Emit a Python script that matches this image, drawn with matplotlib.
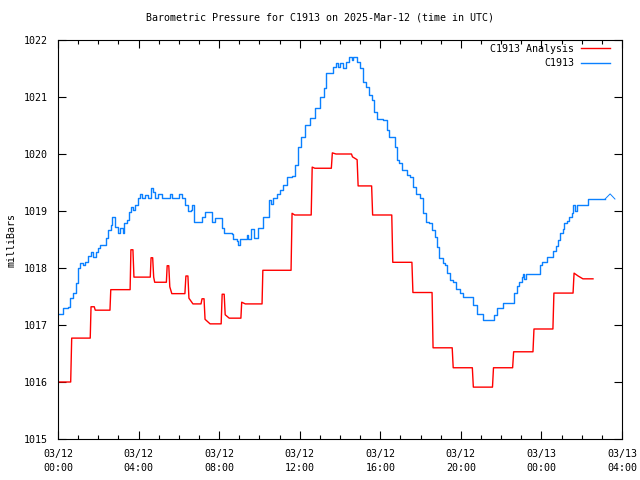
import matplotlib
matplotlib.use("Agg")
import matplotlib.pyplot as plt
from matplotlib.ticker import MultipleLocator

# hours since 2025-03-12 00:00 UTC
blue_hours = [0.0, 0.25, 0.50, 0.60, 0.74, 0.89, 0.99, 1.09, 1.24, 1.34, 1.49, 1.64, 1.74, 1.89, 1.99,
              2.09, 2.28, 2.38, 2.48, 2.63, 2.68, 2.83, 2.98, 3.08, 3.23, 3.28, 3.43, 3.52, 3.62, 3.72,
              3.82, 3.97, 4.07, 4.17, 4.32, 4.47, 4.62, 4.72, 4.82, 4.96, 5.16, 5.46, 5.56, 5.66, 5.91,
              6.01, 6.16, 6.30, 6.45, 6.60, 6.65, 6.75, 7.00, 7.15, 7.30, 7.40, 7.65, 7.79, 7.94, 8.14,
              8.24, 8.64, 8.69, 8.89, 8.94, 9.04, 9.23, 9.38, 9.43, 9.58, 9.73, 9.93, 10.13, 10.18, 10.38,
              10.48, 10.57, 10.67, 10.87, 11.02, 11.17, 11.37, 11.62, 11.77, 11.92, 12.06, 12.26, 12.51,
              12.76, 13.01, 13.21, 13.31, 13.50, 13.65, 13.80, 13.90, 14.00, 14.15, 14.30, 14.45, 14.60,
              14.65, 14.84, 14.99, 15.14, 15.29, 15.44, 15.59, 15.69, 15.84, 16.13, 16.33, 16.43, 16.63,
              16.73, 16.83, 16.93, 17.08, 17.33, 17.48, 17.62, 17.77, 17.97, 18.12, 18.27, 18.42, 18.57,
              18.72, 18.82, 18.92, 19.11, 19.21, 19.31, 19.46, 19.61, 19.76, 19.96, 20.11, 20.55, 20.60,
              20.80, 21.05, 21.10, 21.60, 21.65, 21.79, 22.04, 22.09, 22.59, 22.64, 22.79, 22.89, 23.04,
              23.09, 23.14, 23.23, 23.83, 23.93, 24.03, 24.18, 24.28, 24.48, 24.57, 24.72, 24.82, 24.92,
              25.07, 25.12, 25.27, 25.37, 25.52, 25.57, 25.67, 25.77, 26.21, 26.31, 27.16]
blue_mb = [1017.19, 1017.30, 1017.32, 1017.47, 1017.56, 1017.74, 1018.00, 1018.09, 1018.05, 1018.11,
           1018.21, 1018.28, 1018.19, 1018.28, 1018.35, 1018.40, 1018.40, 1018.53, 1018.67, 1018.75,
           1018.89, 1018.72, 1018.61, 1018.70, 1018.61, 1018.79, 1018.84, 1018.98, 1019.07, 1019.02,
           1019.11, 1019.23, 1019.30, 1019.23, 1019.28, 1019.23, 1019.40, 1019.33, 1019.23, 1019.30,
           1019.23, 1019.23, 1019.30, 1019.23, 1019.23, 1019.30, 1019.23, 1019.11, 1019.00, 1019.02,
           1019.11, 1018.81, 1018.81, 1018.89, 1018.98, 1018.98, 1018.81, 1018.88, 1018.88, 1018.70,
           1018.61, 1018.60, 1018.51, 1018.47, 1018.40, 1018.51, 1018.51, 1018.58, 1018.51, 1018.68,
           1018.53, 1018.70, 1018.70, 1018.89, 1018.89, 1019.19, 1019.12, 1019.23, 1019.30, 1019.37,
           1019.46, 1019.60, 1019.61, 1019.81, 1020.12, 1020.30, 1020.51, 1020.63, 1020.81, 1021.00,
           1021.16, 1021.42, 1021.42, 1021.53, 1021.60, 1021.53, 1021.60, 1021.51, 1021.61, 1021.70,
           1021.65, 1021.70, 1021.61, 1021.51, 1021.26, 1021.18, 1021.04, 1020.95, 1020.74, 1020.61,
           1020.60, 1020.42, 1020.30, 1020.30, 1020.12, 1019.89, 1019.84, 1019.72, 1019.63, 1019.60,
           1019.42, 1019.30, 1019.23, 1018.96, 1018.81, 1018.79, 1018.67, 1018.54, 1018.37, 1018.18,
           1018.09, 1018.05, 1017.91, 1017.79, 1017.75, 1017.63, 1017.56, 1017.49, 1017.49, 1017.35,
           1017.19, 1017.19, 1017.09, 1017.09, 1017.18, 1017.30, 1017.30, 1017.39, 1017.39, 1017.56,
           1017.68, 1017.75, 1017.84, 1017.89, 1017.80, 1017.89, 1017.89, 1018.05, 1018.11, 1018.11,
           1018.19, 1018.19, 1018.30, 1018.39, 1018.49, 1018.61, 1018.68, 1018.79, 1018.82, 1018.89,
           1018.96, 1019.11, 1019.00, 1019.11, 1019.11, 1019.21, 1019.21]
# last few samples are joined by straight segments
blue_tail_hours = [27.16, 27.41, 27.65]
blue_tail_mb = [1019.21, 1019.30, 1019.21]

red_hours = [0.0, 0.63, 0.68, 1.60, 1.64, 1.80, 1.85, 2.58, 2.62, 3.58, 3.62, 3.72, 3.77, 4.58, 4.62,
             4.70, 4.75, 4.80, 5.38, 5.42, 5.50, 5.55, 5.65, 6.30, 6.35, 6.45, 6.50, 6.70, 7.10, 7.15,
             7.25, 7.30, 7.55, 8.10, 8.15, 8.25, 8.30, 8.50, 9.08, 9.12, 9.30, 10.13, 10.17, 11.57,
             11.62, 11.75, 12.57, 12.62, 12.75, 13.57, 13.62, 13.80, 14.57, 14.62, 14.85, 14.90, 15.57,
             15.62, 16.57, 16.62, 17.57, 17.62, 18.57, 18.62, 19.57, 19.62, 20.57, 20.62, 21.57, 21.62,
             22.57, 22.62, 23.58, 23.63, 24.57, 24.62, 25.57, 25.62, 25.82, 26.06, 26.56]
red_mb = [1016.00, 1016.00, 1016.77, 1016.77, 1017.32, 1017.32, 1017.26, 1017.26, 1017.62, 1017.62,
          1018.32, 1018.32, 1017.84, 1017.84, 1018.18, 1018.18, 1017.84, 1017.75, 1017.75, 1018.04,
          1018.04, 1017.67, 1017.55, 1017.55, 1017.86, 1017.86, 1017.47, 1017.37, 1017.37, 1017.46,
          1017.46, 1017.10, 1017.02, 1017.02, 1017.54, 1017.54, 1017.18, 1017.12, 1017.12, 1017.40,
          1017.37, 1017.37, 1017.96, 1017.96, 1018.96, 1018.93, 1018.93, 1019.77, 1019.75, 1019.75,
          1020.02, 1020.00, 1020.00, 1019.95, 1019.90, 1019.44, 1019.44, 1018.93, 1018.93, 1018.10,
          1018.10, 1017.57, 1017.57, 1016.60, 1016.60, 1016.25, 1016.25, 1015.91, 1015.91, 1016.25,
          1016.25, 1016.53, 1016.53, 1016.93, 1016.93, 1017.56, 1017.56, 1017.91, 1017.86, 1017.81,
          1017.81]

tick_hours = [0, 4, 8, 12, 16, 20, 24, 28]
tick_labels = ["03/12\n00:00", "03/12\n04:00", "03/12\n08:00", "03/12\n12:00",
               "03/12\n16:00", "03/12\n20:00", "03/13\n00:00", "03/13\n04:00"]

plt.rcParams['font.family'] = ['DejaVu Sans Mono']
plt.rcParams['font.size'] = 7.2

fig = plt.figure(figsize=(6.4, 4.8), dpi=100)
ax = fig.add_axes([58/640, 41/480, 564/640, 399/480])

ax.plot(red_hours, red_mb, color="#ff0000", linewidth=1.0, label="C1913 Analysis")
ax.plot(blue_hours, blue_mb, color="#0a80ff", linewidth=1.0, drawstyle="steps-post", label="C1913")
ax.plot(blue_tail_hours, blue_tail_mb, color="#0a80ff", linewidth=0.7)

ax.set_xlim(0, 28)
ax.set_ylim(1015, 1022)
ax.set_xticks(tick_hours)
ax.set_xticklabels(tick_labels, linespacing=1.55)
ax.xaxis.set_minor_locator(MultipleLocator(1))
ax.yaxis.set_major_locator(MultipleLocator(1))
ax.yaxis.set_major_formatter(matplotlib.ticker.FormatStrFormatter('%d'))
ax.tick_params(which='both', direction='in', top=True, right=True, width=0.8)
ax.tick_params(which='major', length=6, pad=7)
ax.tick_params(which='minor', length=3)
for s in ax.spines.values():
    s.set_linewidth(0.8)

fig.text(12/640, 1 - 240/480, "milliBars", rotation=90, ha='center', va='center')
fig.text(0.5, 1 - 18/480, "Barometric Pressure for C1913 on 2025-Mar-12 (time in UTC)",
         ha='center', va='center')
ax.legend(loc='upper right', bbox_to_anchor=(0.979, 0.99), frameon=False, markerfirst=False,
          handlelength=2.9, borderaxespad=0, borderpad=0, labelspacing=0.45, handletextpad=0.7)

fig.savefig("out.png", dpi=100)
